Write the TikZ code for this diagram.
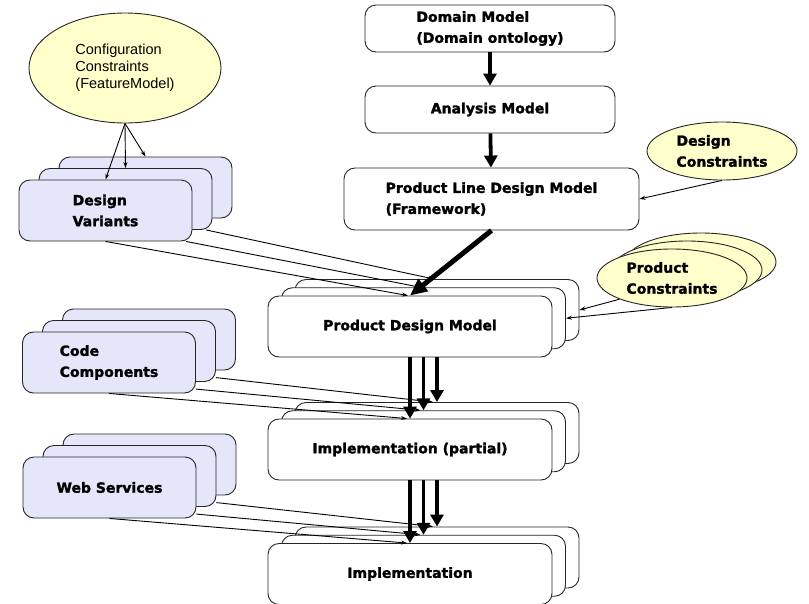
\documentclass[tikz,border=0pt]{standalone}
\usepackage{fontspec}
\setmainfont{Liberation Sans}
\newfontfamily\heavyfont{DejaVu Sans}[BoldFont={DejaVu Sans Bold}, BoldFeatures={FakeBold=1.6}]
\usetikzlibrary{shapes.geometric, arrows.meta}

\definecolor{lavender}{RGB}{230,230,250}
\definecolor{paleyellow}{RGB}{255,255,204}

\begin{document}
\begin{tikzpicture}[x=1pt, y=-1pt,
        model/.style={draw=black!85, line width=0.9pt, rounded corners=11pt, fill=white,
            minimum width=284pt, minimum height=61pt, inner sep=0pt, align=left,
            font=\heavyfont\bfseries\fontsize{14}{21}\selectfont},
        variant/.style={model, fill=lavender, minimum width=173pt},
        constraint/.style={ellipse, draw=black!85, line width=0.9pt, fill=paleyellow,
            minimum width=150pt, minimum height=58pt, inner sep=0pt, align=left,
            font=\heavyfont\bfseries\fontsize{14}{21}\selectfont},
        flow/.style={line width=3.8pt, -{Triangle[length=12pt,width=13pt]}},
        feed/.style={line width=0.9pt, -{Stealth[length=6pt,width=4pt]}}]
            \useasboundingbox (0,0) rectangle (809,603);
            \clip (0,0) rectangle (809,603);

            \node (dm) at (490,28.5) [model, minimum width=250pt, minimum height=47pt] {Domain Model\\(Domain ontology)};
            \node (am) at (490,109.5) [model, minimum width=250pt, minimum height=47pt] {Analysis Model};
            \node (pldm) at (491.5,199) [model, minimum width=295pt, minimum height=62pt] {Product Line Design Model\\(Framework)};

            \foreach \n/\y in {pdm/326.5, ip/449.5, im/574} {
                \node (\n3) at (437,\y-16.5) [model] {};
                \node (\n2) at (423.5,\y-8.25) [model] {};
            }
            \node (pdm1) at (410,326.5) [model] {Product Design Model};
            \node (ip1) at (410,449.5) [model] {Implementation (partial)};
            \node (im1) at (410,574) [model] {Implementation};

            \foreach \n/\x/\y in {dv/105.5/210.5, cc/109/362.5, ws/109.5/487.5} {
                \node (\n3) at (\x+40,\y-23) [variant] {};
                \node (\n2) at (\x+20,\y-11.5) [variant] {};
            }
            \node (dv1) at (105.5,210.5) [variant] {Design\\Variants};
            \node (cc1) at (109,362.5) [variant] {Code\\Components};
            \node (ws1) at (109.5,487.5) [variant] {Web Services};

            \node (cfg) at (125,68) [constraint, minimum width=192pt, minimum height=110pt,
                font=\fontsize{14.5}{17}\selectfont] {Configuration\\Constraints\\(FeatureModel)};
            \node (dc) at (722,151) [constraint] {Design\\Constraints};
            \node (pc3) at (701,262) [constraint] {};
            \node (pc2) at (687,270) [constraint] {};
            \node (pc1) at (672,278) [constraint] {Product\\Constraints};

            \draw [feed] (cfg.south) -- (dv1.north);
            \draw [feed] (cfg.south) -- (dv2.north);
            \draw [feed] (cfg.south) -- (dv3.north);

            \draw [feed] (dv2.-21) -- ([xshift=-3pt]pdm3.north);
            \draw [feed] (dv1.-21) -- ([xshift=-3pt]pdm2.north);
            \draw [feed] (dv1.south) -- ([xshift=-2pt]pdm1.north);

            \draw [feed] (cc2.-17) -- ([xshift=-4pt]ip3.north);
            \draw [feed] (cc1.-17) -- ([xshift=-3pt]ip2.north);
            \draw [feed] (cc1.south) -- ([xshift=-3pt]ip1.north);

            \draw [feed] (ws2.-17) -- ([xshift=-4pt]im3.north);
            \draw [feed] (ws1.-17) -- ([xshift=-3pt]im2.north);
            \draw [feed] (ws1.south) -- ([xshift=-3pt]im1.north);

            \draw [feed] (dc.south) -- (pldm.east);
            \draw [feed] (pc1.-158) -- (pdm3.east);
            \draw [feed] (pc1.south) -- (pdm2.east);

            \draw [flow] (dm) -- (am);
            \draw [flow] (am) -- (pldm);
            \draw [flow, line width=5pt, -{Triangle[length=17pt,width=15pt]}] (pldm.south) -- (pdm1.north);

            \foreach \k in {1,2,3} {
                \draw [flow] (pdm1.south -| ip\k.north) -- (ip\k.north);
                \draw [flow] (ip1.south -| im\k.north) -- (im\k.north);
            }
        \end{tikzpicture}
\end{document}
